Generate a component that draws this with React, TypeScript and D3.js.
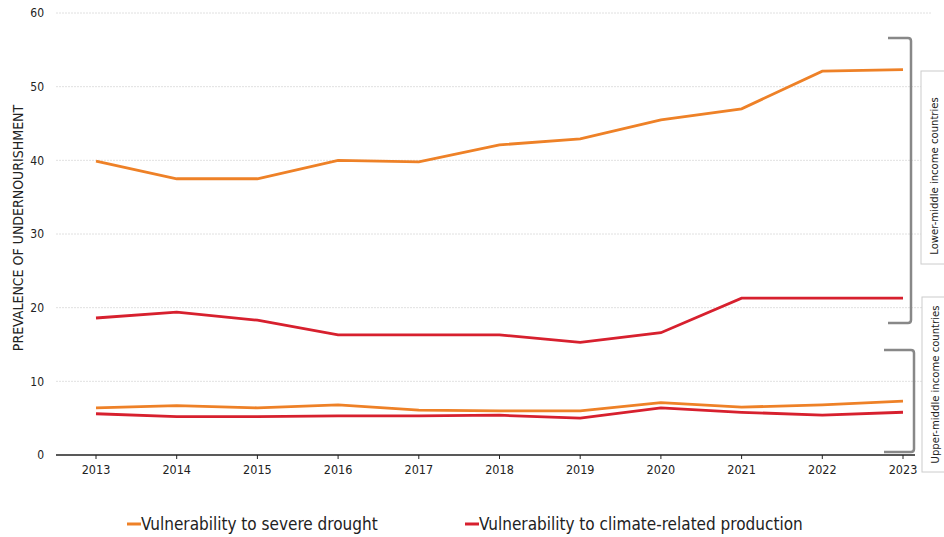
import React from "react";
import * as d3 from "d3";

const years = [2013, 2014, 2015, 2016, 2017, 2018, 2019, 2020, 2021, 2022, 2023];
const droughtLMIC = [39.9, 37.5, 37.5, 40.0, 39.8, 42.1, 42.9, 45.5, 47.0, 52.1, 52.3];
const climateLMIC = [18.6, 19.4, 18.3, 16.3, 16.3, 16.3, 15.3, 16.6, 21.3, 21.3, 21.3];
const droughtUMIC = [6.4, 6.7, 6.4, 6.8, 6.1, 6.0, 6.0, 7.1, 6.5, 6.8, 7.3];
const climateUMIC = [5.6, 5.2, 5.2, 5.3, 5.3, 5.4, 5.0, 6.4, 5.8, 5.4, 5.8];
const yTicks = [0, 10, 20, 30, 40, 50, 60];
const legendLabels = ["Vulnerability to severe drought", "Vulnerability to climate-related production"];
const groupLabels = ["Lower-middle income countries", "Upper-middle income countries"];

const ORANGE = "#EE8127";
const RED = "#D7202E";
const FONT = "'Liberation Sans Narrow', 'DejaVu Sans Condensed', 'Roboto', sans-serif";

export default function App() {
  const W = 944, H = 537;
  const x = d3.scalePoint<number>().domain(years).range([96, 903]);
  const y = d3.scaleLinear().domain([0, 60]).range([455, 13]);
  const line = d3.line<number>().x((_, i) => x(years[i])!).y((d) => y(d));

  const series = [
    { data: droughtLMIC, color: ORANGE },
    { data: climateLMIC, color: RED },
    { data: droughtUMIC, color: ORANGE },
    { data: climateUMIC, color: RED },
  ];

  const bracket = (x0: number, xv: number, y0: number, y1: number) =>
    `M${x0},${y0} L${xv - 3},${y0} Q${xv},${y0} ${xv},${y0 + 3} L${xv},${y1 - 3} Q${xv},${y1} ${xv - 3},${y1} L${x0},${y1}`;

  return (
    <svg width={W} height={H} style={{ position: "absolute", left: 0, top: 0, background: "#fff" }}>
      {yTicks.map((t) => (
        <g key={t}>
          {t > 0 && (
            <line x1={56} x2={932} y1={y(t)} y2={y(t)} stroke="#d8d8d8" strokeWidth={0.8} strokeDasharray="2,1" />
          )}
          <text x={44} y={y(t)} dy="0.35em" textAnchor="end" fontFamily={FONT} fontSize={12} fill="#222">
            {t}
          </text>
        </g>
      ))}
      <line x1={56} x2={915} y1={y(0)} y2={y(0)} stroke="#222" strokeWidth={1.5} />
      {years.map((yr) => (
        <g key={yr}>
          <line x1={x(yr)} x2={x(yr)} y1={y(0)} y2={y(0) + 4} stroke="#222" strokeWidth={1} />
          <text x={x(yr)} y={y(0) + 19} textAnchor="middle" fontFamily={FONT} fontSize={12.5} fill="#222">
            {yr}
          </text>
        </g>
      ))}
      <text
        transform={`translate(23,${228}) rotate(-90)`}
        textAnchor="middle"
        fontFamily={FONT}
        fontSize={14}
        fill="#222"
      >
        PREVALENCE OF UNDERNOURISHMENT
      </text>
      {series.map((s, i) => (
        <path key={i} d={line(s.data)!} fill="none" stroke={s.color} strokeWidth={2.8} />
      ))}
      <path d={bracket(888, 911, 38, 323)} fill="none" stroke="#888" strokeWidth={2.5} />
      <path d={bracket(884, 914, 350, 452)} fill="none" stroke="#888" strokeWidth={2.5} />
      <rect x={921} y={71} width={30} height={193} fill="#fff" stroke="#ccc" strokeWidth={1} />
      <rect x={922} y={297} width={30} height={175} fill="#fff" stroke="#ccc" strokeWidth={1} />
      <text transform={`translate(934,${176}) rotate(-90)`} textAnchor="middle" dy="0.35em" fontFamily={FONT} fontSize={11.2} fill="#222">
        {groupLabels[0]}
      </text>
      <text transform={`translate(935,${384.5}) rotate(-90)`} textAnchor="middle" dy="0.35em" fontFamily={FONT} fontSize={11.2} fill="#222">
        {groupLabels[1]}
      </text>
      {[ORANGE, RED].map((c, i) => {
        const lx = i === 0 ? 127 : 465;
        return (
          <g key={i}>
            <line x1={lx} x2={lx + 14} y1={524} y2={524} stroke={c} strokeWidth={3} />
            <text x={lx + 14} y={524} dy="0.35em" fontFamily={FONT} fontSize={17} fill="#222">
              {legendLabels[i]}
            </text>
          </g>
        );
      })}
    </svg>
  );
}
